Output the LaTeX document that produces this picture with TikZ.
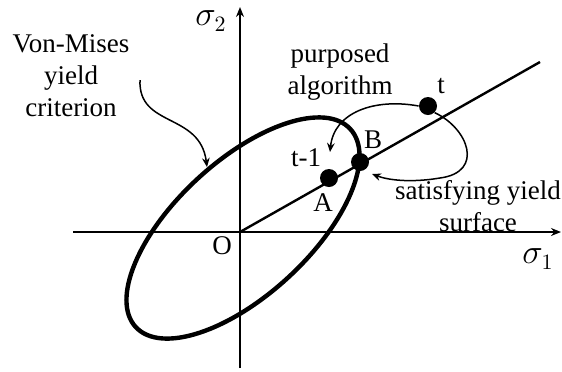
\documentclass[tikz,border=0pt]{standalone}
\usepackage{fontspec}
\setmainfont{Liberation Serif}
\usetikzlibrary{arrows.meta}
\begin{document}
\begin{tikzpicture}[x=0.5pt,y=-0.5pt,
  lbl/.style={inner sep=0pt, font=\fontsize{13.5}{16}\selectfont, align=center},
  sig/.style={inner sep=0pt, font=\fontsize{16}{18}\selectfont},
  dot/.style={circle, fill=black, inner sep=0pt, minimum size=9pt},
  axisline/.style={line width=0.8pt, -{Stealth[length=5pt,width=4pt]}},
  curvearrow/.style={line width=0.75pt, -{Stealth[length=4.5pt,width=3.8pt]}},
  yieldline/.style={line width=2.2pt}]
\useasboundingbox (0,0) rectangle (562,371);
% axes
\coordinate (xl) at (73,232);
\coordinate (xr) at (561,232);
\coordinate (yb) at (240,368);
\coordinate (yt) at (240,7);
\coordinate (O) at (240,232);
\draw[axisline] (xl) -- (xr);
\draw[axisline] (yb) -- (yt);
% ellipse
\coordinate (ec) at (243,228);
\draw[yieldline, rotate around={42.7:(ec)}] (ec) ellipse [x radius=73pt, y radius=33.5pt];
% radial line
\coordinate (lend) at (540,62);
\draw[line width=1.2pt] (O) -- (lend);
% dots
\node[dot] (A) at (329,178) {};
\node[dot] (B) at (360,162) {};
\node[dot] (T) at (428,106) {};
% labels
\node[lbl] (vm) at (71,76) {Von-Mises\\yield\\criterion};
\node[lbl] (pa) at (340,72) {purposed\\algorithm};
\node[lbl] (sy) at (478,206) {satisfying yield\\surface};
\node[lbl] (tl) at (441,86) {t};
\node[lbl] (bl) at (373,140) {B};
\node[lbl] (tm1) at (306,158) {t-1};
\node[lbl] (al) at (323,203) {A};
\node[lbl] (ol) at (222,246) {O};
\node[sig] (s1) at (538,259) {$\sigma_1$};
\node[sig] (s2) at (211,21) {$\sigma_2$};
% arrows
\coordinate (vmstart) at (140,80);
\coordinate (vmtip) at (207,167);
\draw[curvearrow] (vmstart) .. controls (138,128) and (200,112) .. (vmtip);
\coordinate (patip) at (330,152);
\draw[curvearrow] (T.west) .. controls (375,98) and (334,112) .. (patip);
\coordinate (sybot) at (440,178);
\coordinate (sytip) at (372,174);
\draw[curvearrow] (T.south east) .. controls (468,128) and (485,172) .. (sybot)
   .. controls (410,183) and (388,180) .. (sytip);
\end{tikzpicture}
\end{document}
